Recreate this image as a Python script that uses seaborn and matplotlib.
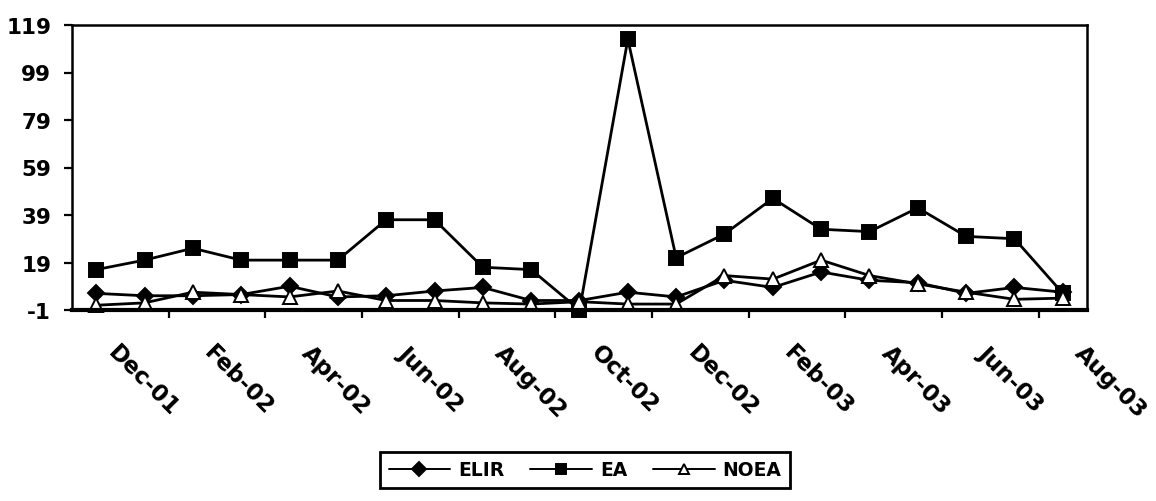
import matplotlib
matplotlib.use("Agg")
import matplotlib.pyplot as plt
import matplotlib.transforms as mtransforms
from matplotlib.ticker import FixedLocator
import numpy as np
import pandas as pd
import seaborn as sns

# Monthly series, Dec-01 through Aug-03
months = ["Dec-01", "Jan-02", "Feb-02", "Mar-02", "Apr-02", "May-02", "Jun-02",
          "Jul-02", "Aug-02", "Sep-02", "Oct-02", "Nov-02", "Dec-02", "Jan-03",
          "Feb-03", "Mar-03", "Apr-03", "May-03", "Jun-03", "Jul-03", "Aug-03"]
elir = [6, 5, 5, 5.5, 9, 4.5, 5, 7, 8.5, 3, 3, 6.5, 4.5, 11.5, 8.5, 15, 11.5, 10.5, 6, 8.5, 6.5]
ea = [16, 20, 25, 20, 20, 20, 37, 37, 17, 16, -1, 113, 21, 31, 46, 33, 32, 42, 30, 29, 6]
noea = [1, 2, 6.5, 5.5, 4.5, 7, 3, 3, 2, 1.5, 2.5, 1.5, 1.5, 13.5, 12, 20, 13.5, 10, 6.5, 3.5, 4]
y_ticks = [-1, 19, 39, 59, 79, 99, 119]

df = pd.DataFrame({"idx": np.arange(len(months)), "month": months,
                   "ELIR": elir, "EA": ea, "NOEA": noea})

sns.set_theme(style="white")
plt.rcParams["font.family"] = ["DejaVu Sans"]
plt.rcParams["font.weight"] = "bold"
plt.rcParams["text.color"] = "black"

fig = plt.figure(figsize=(11.56, 5.02), dpi=100)
ax = fig.add_axes([72 / 1156, 1 - 311 / 502, (1087 - 72) / 1156, (311 - 26) / 502])

common = dict(color="black", linewidth=2.0, markeredgecolor="black",
              markeredgewidth=1.4, clip_on=False, ax=ax)
sns.lineplot(data=df, x="idx", y="ELIR", marker="D", markersize=8.5,
             markerfacecolor="black", label="ELIR", **common)
sns.lineplot(data=df, x="idx", y="EA", marker="s", markersize=10.5,
             markerfacecolor="black", label="EA", **common)
sns.lineplot(data=df, x="idx", y="NOEA", marker="^", markersize=10.5,
             markerfacecolor="white", label="NOEA", **common)

ax.set_xlim(-0.5, len(months) - 0.5)
ax.set_ylim(-1, 119)
ax.set_xlabel("")
ax.set_ylabel("")

# y axis
ax.set_yticks(y_ticks)
ax.set_yticklabels([str(v) for v in y_ticks], fontsize=15.5, fontweight="bold")
ax.tick_params(axis="y", direction="out", length=6, width=1.6, pad=9, left=True,
               color="black", labelcolor="black")

# x axis: labels every second month, tick marks at category boundaries
label_pos = list(range(0, len(months), 2))
ax.xaxis.set_major_locator(FixedLocator(label_pos))
ax.set_xticklabels([months[i] for i in label_pos], rotation=-45, ha="left",
                   va="top", fontsize=16.5, fontweight="bold")
ax.xaxis.set_minor_locator(FixedLocator([p + 1.5 for p in range(0, len(months) - 2, 2)]))
ax.tick_params(axis="x", which="major", length=0, pad=22, labelcolor="black")
ax.tick_params(axis="x", which="minor", direction="out", length=6, width=1.6,
               bottom=True, color="black")
offset = mtransforms.ScaledTranslation(0.07, 0, fig.dpi_scale_trans)
for lab in ax.get_xticklabels():
    lab.set_transform(lab.get_transform() + offset)

for side in ["top", "right", "left"]:
    ax.spines[side].set_visible(True)
    ax.spines[side].set_color("black")
    ax.spines[side].set_linewidth(1.8)
ax.spines["bottom"].set_color("black")
ax.spines["bottom"].set_linewidth(3)
ax.grid(False)

leg = ax.legend(loc="center", bbox_to_anchor=(585 / 1156, 1 - 471 / 502),
                bbox_transform=fig.transFigure, ncol=3, frameon=True,
                fancybox=False, framealpha=1, edgecolor="black", handlelength=3.3,
                handletextpad=0.4, columnspacing=1.4, borderpad=0.45,
                labelcolor="black", prop={"size": 13.5, "weight": "bold"})
leg.get_frame().set_linewidth(2.0)
for h in leg.legend_handles:
    h.set_markersize(7)
    h.set_linewidth(1.4)

fig.savefig("out.png", dpi=100)
